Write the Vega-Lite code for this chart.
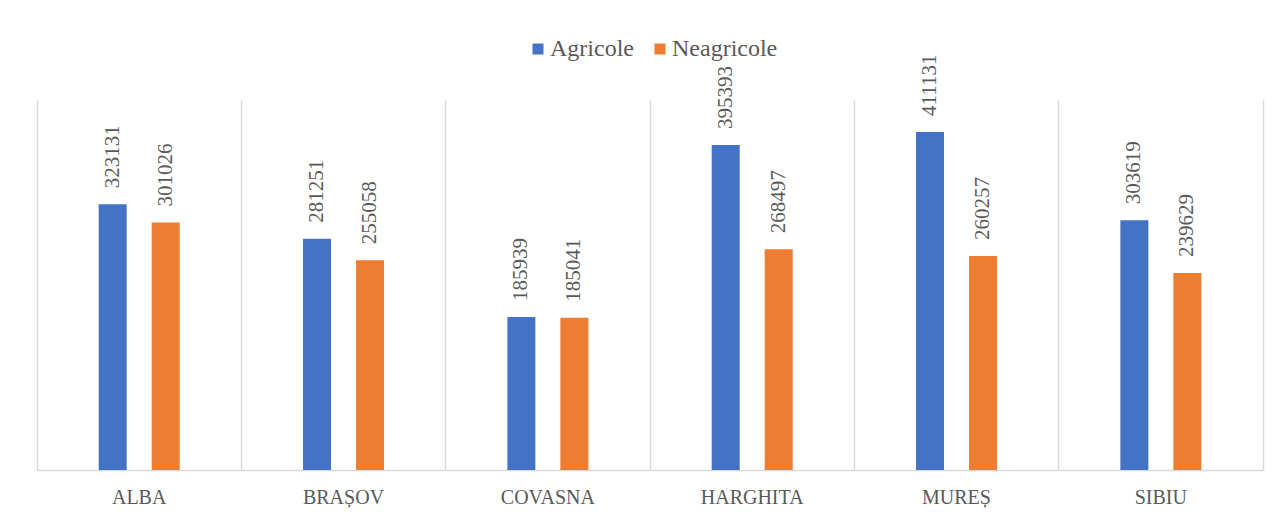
{
  "$schema": "https://vega.github.io/schema/vega-lite/v6.json",
  "width": 1226,
  "height": 370,
  "autosize": {"type": "none"},
  "padding": {"left": 37, "top": 100, "right": 19, "bottom": 49},
  "background": "white",
  "config": {
    "view": {"stroke": null},
    "font": "Liberation Serif"
  },
  "data": {
    "values": [
      {"judet": "ALBA", "tip": "Agricole", "valoare": 323131},
      {"judet": "ALBA", "tip": "Neagricole", "valoare": 301026},
      {"judet": "BRAȘOV", "tip": "Agricole", "valoare": 281251},
      {"judet": "BRAȘOV", "tip": "Neagricole", "valoare": 255058},
      {"judet": "COVASNA", "tip": "Agricole", "valoare": 185939},
      {"judet": "COVASNA", "tip": "Neagricole", "valoare": 185041},
      {"judet": "HARGHITA", "tip": "Agricole", "valoare": 395393},
      {"judet": "HARGHITA", "tip": "Neagricole", "valoare": 268497},
      {"judet": "MUREȘ", "tip": "Agricole", "valoare": 411131},
      {"judet": "MUREȘ", "tip": "Neagricole", "valoare": 260257},
      {"judet": "SIBIU", "tip": "Agricole", "valoare": 303619},
      {"judet": "SIBIU", "tip": "Neagricole", "valoare": 239629}
    ]
  },
  "encoding": {
    "x": {
      "field": "judet",
      "type": "nominal",
      "sort": null,
      "scale": {"paddingInner": 0, "paddingOuter": 0},
      "axis": {
        "title": null,
        "labelAngle": 0,
        "labelFont": "Liberation Serif",
        "labelFontSize": 20,
        "labelColor": "#595959",
        "labelPadding": 17,
        "ticks": false,
        "domain": true,
        "domainColor": "#d9d9d9",
        "domainWidth": 1.5,
        "grid": true,
        "gridColor": "#d9d9d9",
        "gridWidth": 1.5,
        "bandPosition": 0
      }
    },
    "xOffset": {
      "field": "tip",
      "type": "nominal",
      "sort": ["Agricole", "Neagricole"],
      "scale": {"range": [61.7, 142.7], "paddingInner": 0.4717, "paddingOuter": 0}
    },
    "y": {
      "field": "valoare",
      "type": "quantitative",
      "scale": {"domain": [0, 450000], "nice": false},
      "axis": {
        "orient": "right",
        "title": null,
        "labels": false,
        "ticks": false,
        "grid": false,
        "domain": true,
        "domainColor": "#d9d9d9",
        "domainWidth": 1.5
      }
    }
  },
  "layer": [
    {
      "mark": {"type": "bar"},
      "encoding": {
        "color": {
          "field": "tip",
          "type": "nominal",
          "sort": ["Agricole", "Neagricole"],
          "scale": {"domain": ["Agricole", "Neagricole"], "range": ["#4472C4", "#ED7D31"]},
          "legend": {
            "title": null,
            "orient": "none",
            "direction": "horizontal",
            "legendX": 489,
            "legendY": -63,
            "padding": 0,
            "symbolType": "square",
            "symbolSize": 121,
            "symbolStrokeWidth": 0,
            "symbolOpacity": 1,
            "labelFont": "Liberation Serif",
            "labelFontSize": 24,
            "labelColor": "#595959",
            "labelOffset": 0,
            "columnPadding": 14
          }
        }
      }
    },
    {
      "mark": {
        "type": "text",
        "angle": -90,
        "align": "left",
        "baseline": "middle",
        "dx": 16,
        "font": "Liberation Serif",
        "fontSize": 21,
        "color": "#595959"
      },
      "encoding": {
        "text": {"field": "valoare", "type": "quantitative", "format": "d"}
      }
    }
  ]
}
